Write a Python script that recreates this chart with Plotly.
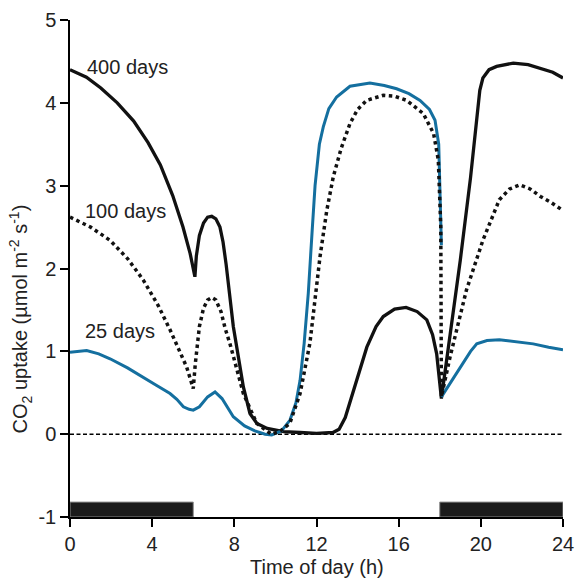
import plotly.graph_objects as go

# CO2 uptake over a day for plants of three ages
t_400 = [0, 0.8, 1.5, 2.3, 3.1, 3.8, 4.4, 5.0, 5.5, 5.85, 6.08, 6.15, 6.3, 6.5, 6.7, 6.9, 7.1,
         7.3, 7.45, 7.6, 7.95, 8.25, 8.44, 8.76, 9.1, 9.6, 10.4, 11.2, 12.0, 12.8, 13.1, 13.4,
         13.8, 14.45, 14.9, 15.25, 15.8, 16.36, 16.9, 17.37, 17.65, 17.85, 18.08, 18.5, 19.0,
         19.5, 19.8, 19.95, 20.1, 20.4, 20.77, 21.58, 22.3, 22.9, 23.5, 24]
v_400 = [4.40, 4.31, 4.18, 4.00, 3.78, 3.52, 3.25, 2.88, 2.50, 2.18, 1.90, 2.15, 2.40, 2.55, 2.62,
         2.63, 2.60, 2.50, 2.32, 2.05, 1.30, 0.85, 0.57, 0.25, 0.13, 0.07, 0.03, 0.02, 0.01, 0.02,
         0.06, 0.20, 0.53, 1.05, 1.30, 1.42, 1.51, 1.53, 1.48, 1.38, 1.20, 0.97, 0.43, 1.20, 2.10,
         3.10, 3.85, 4.15, 4.30, 4.40, 4.44, 4.48, 4.46, 4.42, 4.37, 4.30]

t_100 = [0, 1.0, 1.95, 2.8, 3.57, 4.3, 4.87, 5.3, 5.68, 6.0, 6.1, 6.3, 6.5, 6.7, 6.9, 7.1, 7.35,
         7.55, 7.8, 8.44, 9.09, 9.8, 10.2, 10.7, 11.2, 11.68, 12.17, 12.5, 12.82, 13.2, 13.63,
         14.0, 14.44, 15.25, 15.8, 16.39, 17.2, 17.7, 17.93, 18.05, 18.08, 18.5, 19.3, 20.1,
         20.9, 21.4, 21.9, 22.4, 22.9, 23.4, 24]
v_100 = [2.62, 2.50, 2.34, 2.12, 1.86, 1.55, 1.26, 1.02, 0.81, 0.55, 0.85, 1.30, 1.52, 1.62, 1.65,
         1.62, 1.48, 1.28, 1.08, 0.49, 0.13, 0.00, 0.03, 0.13, 0.49, 1.10, 2.14, 2.70, 3.11, 3.45,
         3.75, 3.92, 4.03, 4.09, 4.08, 4.03, 3.87, 3.63, 3.31, 2.50, 0.45, 0.93, 1.74, 2.34, 2.83,
         2.96, 3.01, 2.96, 2.87, 2.80, 2.70]

t_25 = [0, 0.81, 1.4, 1.95, 2.8, 3.57, 4.2, 4.87, 5.2, 5.52, 5.8, 6.0, 6.3, 6.7, 7.06, 7.4, 7.95,
        8.5, 9.0, 9.5, 9.82, 10.3, 10.71, 11.0, 11.2, 11.4, 11.6, 11.8, 11.93, 12.14, 12.33, 12.6,
        12.98, 13.63, 14.6, 15.3, 15.9, 16.5, 17.04, 17.5, 17.77, 17.95, 18.08, 18.08, 18.08,
        19.0, 19.5, 19.8, 20.3, 20.9, 21.7, 22.55, 23.3, 24]
v_25 = [0.99, 1.01, 0.97, 0.91, 0.80, 0.69, 0.59, 0.49, 0.42, 0.33, 0.30, 0.29, 0.33, 0.45, 0.51,
        0.43, 0.21, 0.10, 0.04, 0.00, -0.01, 0.04, 0.17, 0.38, 0.65, 1.10, 1.70, 2.50, 3.00, 3.50,
        3.71, 3.93, 4.07, 4.20, 4.24, 4.21, 4.17, 4.11, 4.03, 3.92, 3.79, 3.50, 2.28, None, 0.45,
        0.81, 1.00, 1.09, 1.13, 1.14, 1.12, 1.09, 1.05, 1.02]

# dark periods
night_start = [0, 18]
night_end = [6, 24]
night_top = -0.82

x_ticks = [0, 4, 8, 12, 16, 20, 24]
y_ticks = [-1, 0, 1, 2, 3, 4, 5]
y_ticktext = ["-1", "0", "1", "2", "3", "4", "5"]

blue = "#146f9f"
font = "Liberation Sans, Arial, sans-serif"

fig = go.Figure()

# night bars
fig.add_trace(go.Bar(
    x=[(s + e) / 2 for s, e in zip(night_start, night_end)],
    y=[night_top + 1 for _ in night_start],
    width=[e - s for s, e in zip(night_start, night_end)],
    base=-1,
    marker=dict(color="#1b1b1b", line=dict(color="#8a8a8a", width=1)),
    hoverinfo="skip",
))

# zero line
fig.add_trace(go.Scatter(x=[0, 24], y=[0, 0], mode="lines",
                         line=dict(color="black", width=1.5, dash="4px,2.5px")))

fig.add_trace(go.Scatter(x=t_400, y=v_400, mode="lines",
                         line=dict(color="#111111", width=3.3)))
fig.add_trace(go.Scatter(x=t_25, y=v_25, mode="lines", connectgaps=False,
                         line=dict(color=blue, width=3)))
fig.add_trace(go.Scatter(x=t_100, y=v_100, mode="lines",
                         line=dict(color="#111111", width=3.5, dash="dot")))

labels = [("400 days", 0.73, 4.43), ("100 days", 0.65, 2.69), ("25 days", 0.63, 1.24)]
for txt, x, y in labels:
    fig.add_annotation(x=x, y=y, text=txt, showarrow=False, xanchor="left", yanchor="middle",
                       font=dict(size=20, color="#222222", family=font))

# axis titles as annotations so they sit where the original has them
fig.add_annotation(xref="paper", yref="paper", x=0.5, y=-0.101, text="Time of day (h)",
                   showarrow=False, xanchor="center", yanchor="middle",
                   font=dict(size=20, color="#222222", family=font))
fig.add_annotation(xref="paper", yref="paper", x=-0.101, y=0.398, textangle=-90,
                   text="CO<sub>2</sub> uptake (µmol m<sup>-2</sup> s<sup>-1</sup>)",
                   showarrow=False, xanchor="center", yanchor="middle",
                   font=dict(size=20, color="#222222", family=font))

fig.update_layout(
    width=576, height=580,
    margin=dict(l=70, r=13, t=20, b=63),
    plot_bgcolor="white", paper_bgcolor="white",
    showlegend=False,
    font=dict(family=font, size=20, color="#222222"),
    xaxis=dict(range=[0, 24], tickvals=x_ticks, showgrid=False, zeroline=False,
               showline=True, linecolor="black", linewidth=1.5, automargin=False,
               ticks="outside", ticklen=8, tickwidth=1.5, tickcolor="black"),
    yaxis=dict(range=[-1, 5], tickvals=y_ticks, ticktext=y_ticktext, showgrid=False,
               zeroline=False, showline=True, linecolor="black", linewidth=1.5,
               automargin=False,
               ticks="outside", ticklen=8, tickwidth=1.5, tickcolor="black"),
)

# page body has an 8px default margin; drop it so the chart fills the window
fig.write_html("out.html", config={"displayModeBar": False},
               post_script="document.body.style.margin='0';")
